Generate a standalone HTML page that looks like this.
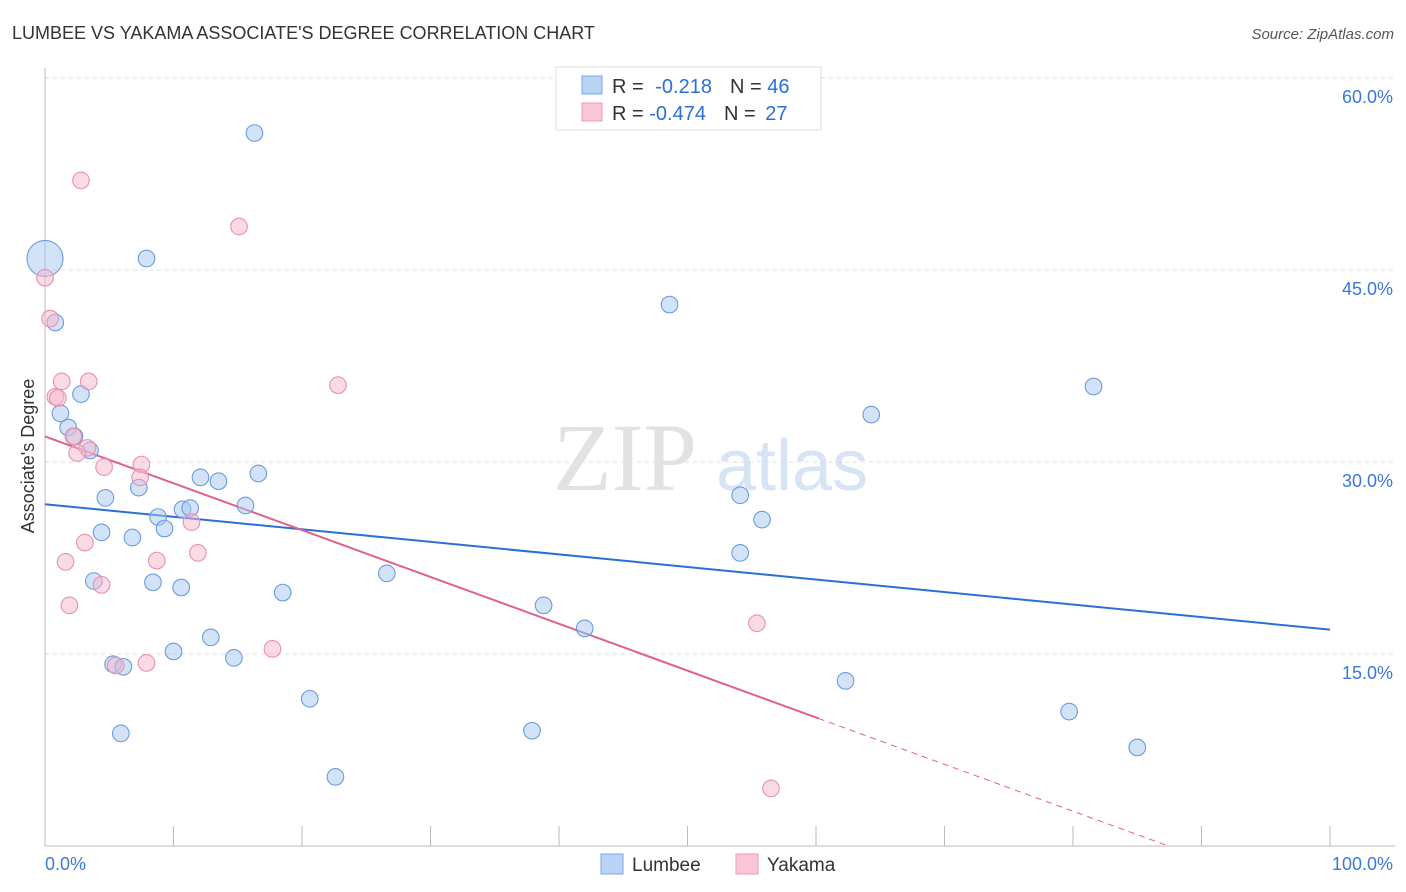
<!DOCTYPE html>
<html><head><meta charset="utf-8"><style>
body{margin:0;background:#fff;font-family:"Liberation Sans",sans-serif}
svg{display:block}
</style></head><body>
<svg id="c" width="1406" height="892" xmlns="http://www.w3.org/2000/svg">
<text x="12" y="39" font-size="18" fill="#333">LUMBEE VS YAKAMA ASSOCIATE'S DEGREE CORRELATION CHART</text>
<text x="1394" y="39" font-size="15" fill="#555" font-style="italic" text-anchor="end">Source: ZipAtlas.com</text>
<g>
<text x="553" y="490" font-size="96" font-family="Liberation Serif,serif" fill="#e2e2e2">ZIP</text>
<text x="716" y="490" font-size="72" fill="#d6e4f5">atlas</text>
</g>
<g id="grid"></g>
<g id="axes"></g>
<g id="lines"></g>
<g id="pts"></g>
<text transform="translate(34,456) rotate(-90)" font-size="18" fill="#333" text-anchor="middle">Associate's Degree</text>
<g>
<rect x="556" y="67" width="265" height="63" fill="#fff" stroke="#ddd"/>
<rect x="582" y="76" width="20" height="18" fill="#b9d3f5" stroke="#7aa6e6"/>
<rect x="582" y="103" width="20" height="18" fill="#f9c6d6" stroke="#eb9ab7"/>
<text x="612" y="93" font-size="20" fill="#333">R = <tspan dx="6" fill="#2a6fd6">-0.218</tspan><tspan dx="18">N = </tspan><tspan fill="#2a6fd6">46</tspan></text>
<text x="612" y="120" font-size="20" fill="#333">R = <tspan fill="#2a6fd6">-0.474</tspan><tspan dx="18">N = </tspan><tspan dx="4" fill="#2a6fd6">27</tspan></text>
</g>
<g>
<rect x="601" y="854" width="22" height="20" fill="#b9d3f5" stroke="#7aa6e6"/>
<text x="632" y="871" font-size="19" fill="#333">Lumbee</text>
<rect x="736" y="854" width="22" height="20" fill="#f9c6d6" stroke="#eb9ab7"/>
<text x="767" y="871" font-size="19" fill="#333">Yakama</text>
</g>
</svg>
<script>
const blueX=[0,16.3,7.9,0.8,2.8,1.2,1.8,2.3,3.5,4.7,7.3,12.1,13.5,16.6,15.6,8.8,9.3,10.7,11.3,4.4,6.8,3.8,8.4,10.6,18.5,26.6,12.9,10.0,14.7,5.3,6.1,5.9,20.6,22.6,38.8,42.0,37.9,48.6,54.1,55.8,54.1,64.3,62.3,81.6,79.7,85.0];
const blueY=[45.9,55.7,45.9,40.9,35.3,33.8,32.7,32.0,30.9,27.2,28.0,28.8,28.5,29.1,26.6,25.7,24.8,26.3,26.4,24.5,24.1,20.7,20.6,20.2,19.8,21.3,16.3,15.2,14.7,14.2,14.0,8.8,11.5,5.4,18.8,17.0,9.0,42.3,27.4,25.5,22.9,33.7,12.9,35.9,10.5,7.7];
const pinkX=[2.8,15.1,0,0.4,1.3,3.4,0.8,1.0,2.2,3.3,2.5,4.6,7.5,7.4,11.4,3.1,11.9,8.7,1.6,4.4,1.9,5.5,7.9,17.7,22.8,55.4,56.5];
const pinkY=[52.0,48.4,44.4,41.2,36.3,36.3,35.1,35.0,32.0,31.1,30.7,29.6,29.8,28.8,25.3,23.7,22.9,22.3,22.2,20.4,18.8,14.1,14.3,15.4,36.0,17.4,4.5];
const yTicks=[15,30,45,60];
const xTickLabels=["0.0%","100.0%"];
const blueTrend=[26.7,16.9];
const pinkTrend=[32.0,-4.6];
const pinkSolidEnd=60.2;

const NS="http://www.w3.org/2000/svg";
const sx=v=>45+v*12.85, sy=v=>846-v*12.8;
function mk(t,a,p){const e=document.createElementNS(NS,t);for(const k in a)e.setAttribute(k,a[k]);p.appendChild(e);return e;}
const grid=document.getElementById('grid'),axes=document.getElementById('axes'),lines=document.getElementById('lines'),pts=document.getElementById('pts');
yTicks.forEach(t=>{
 const l=mk('line',{x1:45,x2:1395,y1:sy(t),y2:sy(t),stroke:'#ddd','stroke-dasharray':'4,4'},grid);
 
 
 const tx=mk('text',{x:1393,y:sy(t)+25,'font-size':18,fill:'#3b78d8','text-anchor':'end'},grid);
 tx.textContent=t.toFixed(1)+'%';
 
 
});
const ya=mk('line',{x1:45,x2:45,y1:68,y2:846,stroke:'#bbb'},axes);


const xa=mk('line',{x1:45,x2:1395,y1:846,y2:846,stroke:'#bbb'},axes);


for(let i=0;i<=10;i++){const t=mk('line',{x1:sx(i*10),x2:sx(i*10),y1:826,y2:846,stroke:'#bbb'},axes);
 
 }
const xl0=mk('text',{x:45,y:870,'font-size':18,fill:'#3b78d8'},axes);xl0.textContent=xTickLabels[0];


const xl1=mk('text',{x:1393,y:870,'font-size':18,fill:'#3b78d8','text-anchor':'end'},axes);xl1.textContent=xTickLabels[1];



function dot(x,y,r,f,s,name){const c=mk('circle',{cx:sx(x),cy:sy(y),r:r,fill:f,'fill-opacity':0.5,stroke:s,'stroke-width':1.1},pts);
 
 }
blueX.forEach((x,i)=>dot(x,blueY[i],i===0?18:8.3,'#a8c8f0','#6a9be0','lumbee-point'));
pinkX.forEach((x,i)=>dot(x,pinkY[i],8.3,'#f5b8cc','#e890b0','yakama-point'));

const bl=mk('line',{x1:sx(0),y1:sy(blueTrend[0]),x2:sx(100),y2:sy(blueTrend[1]),stroke:'#2a6fd6','stroke-width':2},lines);


const pAt=x=>pinkTrend[0]+(pinkTrend[1]-pinkTrend[0])*x/100;
const pl=mk('line',{x1:sx(0),y1:sy(pAt(0)),x2:sx(pinkSolidEnd),y2:sy(pAt(pinkSolidEnd)),stroke:'#e0608f','stroke-width':2},lines);


const zeroX=pinkTrend[0]/(pinkTrend[0]-pinkTrend[1])*100;
const pd=mk('line',{x1:sx(pinkSolidEnd),y1:sy(pAt(pinkSolidEnd)),x2:sx(zeroX),y2:sy(0),stroke:'#e0608f','stroke-width':1,'stroke-dasharray':'6,5'},lines);


</script>
</body></html>
